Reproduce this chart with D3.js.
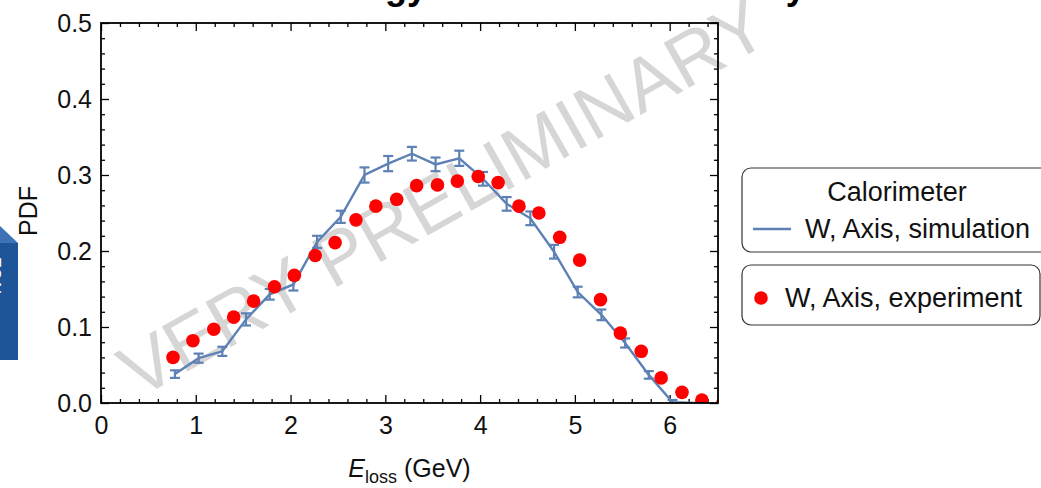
<!DOCTYPE html>
<html>
<head>
<meta charset="utf-8">
<script src="https://cdn.jsdelivr.net/npm/d3@7"></script>
<style>
  body { margin: 0; background: #fff; }
  text { font-family: "Liberation Sans", Arial, sans-serif; }
</style>
</head>
<body>
<svg id="chart"></svg>
<script>
// simulation (blue line with error bars)
const simE = [0.78, 1.03, 1.28, 1.53, 1.78, 2.03, 2.28, 2.53, 2.78, 3.03, 3.28, 3.53,
  3.78, 4.03, 4.28, 4.53, 4.78, 5.03, 5.28, 5.53, 5.78, 6.03, 6.28];
const simPdf = [0.038, 0.059, 0.068, 0.110, 0.143, 0.156, 0.212, 0.245, 0.300, 0.315, 0.328, 0.314,
  0.322, 0.295, 0.262, 0.243, 0.199, 0.146, 0.116, 0.079, 0.037, 0.001, 0.0];
const simErr = [0.005, 0.006, 0.006, 0.008, 0.007, 0.008, 0.008, 0.008, 0.010, 0.010, 0.009, 0.009,
  0.010, 0.009, 0.009, 0.009, 0.009, 0.007, 0.007, 0.006, 0.005, 0.003, 0.0];

// experiment (red dots)
const expE = [0.76, 0.97, 1.19, 1.40, 1.61, 1.83, 2.04, 2.26, 2.47, 2.69, 2.90, 3.12, 3.33, 3.55,
  3.76, 3.98, 4.19, 4.41, 4.62, 4.84, 5.05, 5.27, 5.48, 5.70, 5.91, 6.13, 6.34, 6.56];
const expPdf = [0.060, 0.082, 0.097, 0.113, 0.134, 0.153, 0.168, 0.194, 0.211, 0.241, 0.259, 0.268,
  0.286, 0.287, 0.292, 0.298, 0.290, 0.259, 0.250, 0.218, 0.188, 0.136, 0.092, 0.068, 0.033, 0.014,
  0.004, 0.000];

const xTicks = [0, 1, 2, 3, 4, 5, 6];
const yTicks = [0, 0.1, 0.2, 0.3, 0.4, 0.5];
const legendLabels = ['W, Axis, simulation', 'W, Axis, experiment'];

const W = 1041, H = 488;
const plot = { left: 101, right: 718, top: 23, bottom: 403 };
const blue = '#5e81b5', red = '#ff0000';

const svg = d3.select('#chart').attr('width', W).attr('height', H);
svg.append('rect').attr('width', W).attr('height', H).attr('fill', '#fff');

const x = d3.scaleLinear().domain([0, 6.51]).range([plot.left, plot.right]);
const y = d3.scaleLinear().domain([0, 0.5]).range([plot.bottom, plot.top]);

// cropped title (only descenders show)
svg.append('text')
  .attr('x', 305).attr('y', -1)
  .attr('font-size', 36).attr('font-weight', 'bold')
  .text('Energy loss in the Axis study');

// piece of a slide box on the left edge
svg.append('polygon').attr('points', '0,226 18,243 0,243').attr('fill', '#3d73b5');
svg.append('rect').attr('x', 0).attr('y', 243).attr('width', 18).attr('height', 117).attr('fill', '#1d5598');
svg.append('text')
  .attr('transform', 'translate(-11,278) rotate(90)')
  .attr('text-anchor', 'middle').attr('font-size', 16).attr('fill', '#fff')
  .text('ECAL');

// watermark
svg.append('text')
  .attr('transform', 'translate(443,197) rotate(-29.5)')
  .attr('text-anchor', 'middle').attr('dominant-baseline', 'central')
  .attr('font-size', 75).attr('fill', '#d6d6d6')
  .text('VERY PRELIMINARY');

// axes with inward ticks
const minorX = d3.range(0, 6.5, 0.2).filter(v => Math.abs(v - Math.round(v)) > 1e-6);
const minorY = d3.range(0, 0.5, 0.02).filter(v => Math.abs(v * 10 - Math.round(v * 10)) > 1e-6);

function styleAxis(g) {
  g.select('.domain').remove();
  g.selectAll('line').attr('stroke', '#000').attr('stroke-width', 1.3);
  g.selectAll('text').attr('font-size', 25).attr('fill', '#111');
}

svg.append('g').attr('transform', `translate(0,${plot.bottom})`)
  .call(d3.axisBottom(x).tickValues(xTicks).tickSizeInner(-8).tickPadding(13).tickFormat(d3.format('d')))
  .call(styleAxis);
svg.append('g').attr('transform', `translate(0,${plot.bottom})`)
  .call(d3.axisBottom(x).tickValues(minorX).tickSizeInner(-4).tickFormat(''))
  .call(styleAxis);
svg.append('g').attr('transform', `translate(0,${plot.top})`)
  .call(d3.axisTop(x).tickValues(xTicks).tickSizeInner(-8).tickFormat(''))
  .call(styleAxis);
svg.append('g').attr('transform', `translate(0,${plot.top})`)
  .call(d3.axisTop(x).tickValues(minorX).tickSizeInner(-4).tickFormat(''))
  .call(styleAxis);

svg.append('g').attr('transform', `translate(${plot.left},0)`)
  .call(d3.axisLeft(y).tickValues(yTicks).tickSizeInner(-8).tickPadding(9).tickFormat(d3.format('.1f')))
  .call(styleAxis);
svg.append('g').attr('transform', `translate(${plot.left},0)`)
  .call(d3.axisLeft(y).tickValues(minorY).tickSizeInner(-4).tickFormat(''))
  .call(styleAxis);
svg.append('g').attr('transform', `translate(${plot.right},0)`)
  .call(d3.axisRight(y).tickValues(yTicks).tickSizeInner(-8).tickFormat(''))
  .call(styleAxis);
svg.append('g').attr('transform', `translate(${plot.right},0)`)
  .call(d3.axisRight(y).tickValues(minorY).tickSizeInner(-4).tickFormat(''))
  .call(styleAxis);

// data, clipped to the frame
svg.append('clipPath').attr('id', 'clip')
  .append('rect')
  .attr('x', plot.left).attr('y', plot.top)
  .attr('width', plot.right - plot.left).attr('height', plot.bottom - plot.top);
const area = svg.append('g').attr('clip-path', 'url(#clip)');

const sim = simE.map((e, i) => ({ e, p: simPdf[i], err: simErr[i] }));
const exp = expE.map((e, i) => ({ e, p: expPdf[i] }));

area.append('path')
  .datum(sim)
  .attr('fill', 'none').attr('stroke', blue).attr('stroke-width', 2.4)
  .attr('d', d3.line().x(d => x(d.e)).y(d => y(d.p)));

const bars = area.selectAll('.err').data(sim.filter(d => d.err > 0)).enter()
  .append('g').attr('class', 'err').attr('stroke', blue).attr('stroke-width', 2.2);
bars.append('line')
  .attr('x1', d => x(d.e)).attr('x2', d => x(d.e))
  .attr('y1', d => y(d.p - d.err)).attr('y2', d => y(d.p + d.err));
bars.append('line')
  .attr('x1', d => x(d.e) - 5).attr('x2', d => x(d.e) + 5)
  .attr('y1', d => y(d.p - d.err)).attr('y2', d => y(d.p - d.err));
bars.append('line')
  .attr('x1', d => x(d.e) - 5).attr('x2', d => x(d.e) + 5)
  .attr('y1', d => y(d.p + d.err)).attr('y2', d => y(d.p + d.err));

area.selectAll('.dot').data(exp).enter()
  .append('circle').attr('class', 'dot')
  .attr('cx', d => x(d.e)).attr('cy', d => y(d.p))
  .attr('r', 6.8).attr('fill', red);

// frame
svg.append('rect')
  .attr('x', plot.left).attr('y', plot.top)
  .attr('width', plot.right - plot.left).attr('height', plot.bottom - plot.top)
  .attr('fill', 'none').attr('stroke', '#000').attr('stroke-width', 1.8);

// axis labels
const xl = svg.append('text')
  .attr('x', (plot.left + plot.right) / 2).attr('y', 477)
  .attr('text-anchor', 'middle').attr('font-size', 25).attr('fill', '#111');
xl.append('tspan').attr('font-style', 'italic').text('E');
xl.append('tspan').attr('font-size', 18).attr('dy', 6).text('loss');
xl.append('tspan').attr('dy', -6).text(' (GeV)');

svg.append('text')
  .attr('transform', 'translate(37,211) rotate(-90)')
  .attr('text-anchor', 'middle').attr('font-size', 25).attr('fill', '#111')
  .text('PDF');

// legend
const leg = svg.append('g');
leg.append('rect').attr('x', 742).attr('y', 168).attr('width', 330).attr('height', 84)
  .attr('rx', 9).attr('fill', '#fff').attr('stroke', '#333').attr('stroke-width', 1.2);
leg.append('text').attr('x', 897).attr('y', 201).attr('text-anchor', 'middle')
  .attr('font-size', 27).attr('fill', '#111').text('Calorimeter');
leg.append('line').attr('x1', 753).attr('x2', 791).attr('y1', 229).attr('y2', 229)
  .attr('stroke', blue).attr('stroke-width', 2.4);
leg.append('text').attr('x', 805).attr('y', 238)
  .attr('font-size', 27).attr('fill', '#111').text(legendLabels[0]);

leg.append('rect').attr('x', 742).attr('y', 265).attr('width', 298).attr('height', 60)
  .attr('rx', 9).attr('fill', '#fff').attr('stroke', '#333').attr('stroke-width', 1.2);
leg.append('circle').attr('cx', 761).attr('cy', 298).attr('r', 6.8).attr('fill', red);
leg.append('text').attr('x', 785).attr('y', 307)
  .attr('font-size', 27).attr('fill', '#111').text(legendLabels[1]);
</script>
</body>
</html>
